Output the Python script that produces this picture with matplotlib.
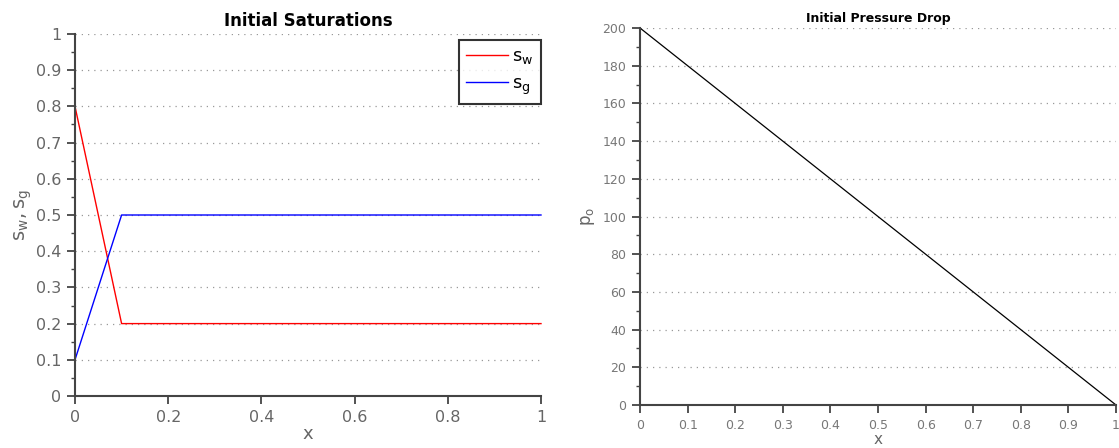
import matplotlib
matplotlib.use("Agg")
import matplotlib.pyplot as plt
from matplotlib.ticker import MultipleLocator

plt.rcParams['font.family'] = ['DejaVu Sans']
plt.rcParams['mathtext.fontset'] = 'dejavusans'

# Data
x_sat = [0.0, 0.1, 1.0]
s_w = [0.8, 0.2, 0.2]
s_g = [0.1, 0.5, 0.5]
x_p = [0.0, 1.0]
p_o = [200.0, 0.0]

TICK_C = '#666666'
AX_C = '#444444'

fig = plt.figure(figsize=(11.19, 4.48), dpi=100)
ax1 = fig.add_axes([75/1119, 1-396/448, (541-75)/1119, (396-34)/448])
ax2 = fig.add_axes([640/1119, 1-405/448, (1116-640)/1119, (405-28)/448])

def style(ax, fs, lc):
    for s in ['top', 'right']:
        ax.spines[s].set_visible(False)
    for s in ['left', 'bottom']:
        ax.spines[s].set_color(AX_C)
        ax.spines[s].set_linewidth(1.5)
    ax.tick_params(which='major', direction='out', length=6, width=1.3, color=AX_C,
                   labelcolor=lc, labelsize=fs, pad=4)
    ax.tick_params(which='minor', direction='out', length=3, width=1.0, color=AX_C)
    ax.grid(True, axis='y', which='major', linestyle=(0, (1, 4)), color='#999999', linewidth=0.9)
    ax.set_axisbelow(True)

# Left plot
ax1.plot(x_sat, s_w, color='#ff0000', lw=1.0, label=r'$\mathregular{s_w}$', clip_on=False)
ax1.plot(x_sat, s_g, color='#0000ff', lw=1.0, label=r'$\mathregular{s_g}$', clip_on=False)
ax1.set_xlim(0, 1)
ax1.set_ylim(0, 1)
ax1.set_xticks([0, 0.2, 0.4, 0.6, 0.8, 1.0])
ax1.set_xticklabels(['0', '0.2', '0.4', '0.6', '0.8', '1'])
ax1.set_yticks([i/10 for i in range(11)])
ax1.set_yticklabels(['0'] + [f'0.{i}' for i in range(1, 10)] + ['1'])
ax1.yaxis.set_minor_locator(MultipleLocator(0.05))
style(ax1, 11.5, TICK_C)
ax1.set_title('Initial Saturations', fontsize=12, fontweight='bold', pad=6)
ax1.set_xlabel('x', fontsize=13, color=TICK_C, labelpad=0)
ax1.set_ylabel(r'$\mathregular{s_w, s_g}$', fontsize=14, color=TICK_C, labelpad=1)
leg = ax1.legend(loc='upper right', bbox_to_anchor=(1.0, 0.983), borderaxespad=0, frameon=True,
                 fancybox=False, fontsize=13, handlelength=2.3, borderpad=0.4, labelspacing=0.45,
                 handletextpad=0.25)
leg.get_frame().set_edgecolor('black')
leg.get_frame().set_linewidth(1.5)

# Right plot
ax2.plot(x_p, p_o, color='black', lw=0.9, clip_on=False)
ax2.set_xlim(0, 1)
ax2.set_ylim(0, 200)
ax2.set_xticks([i/10 for i in range(11)])
ax2.set_xticklabels(['0'] + [f'0.{i}' for i in range(1, 10)] + ['1'])
ax2.set_yticks(range(0, 201, 20))
ax2.yaxis.set_minor_locator(MultipleLocator(10))
style(ax2, 9, '#777777')
ax2.set_title('Initial Pressure Drop', fontsize=9, fontweight='bold', pad=4)
ax2.set_xlabel('x', fontsize=11, color=TICK_C, labelpad=0)
ax2.set_ylabel(r'$\mathregular{p_o}$', fontsize=12, color=TICK_C, labelpad=4)

fig.savefig('out.png', dpi=100)
